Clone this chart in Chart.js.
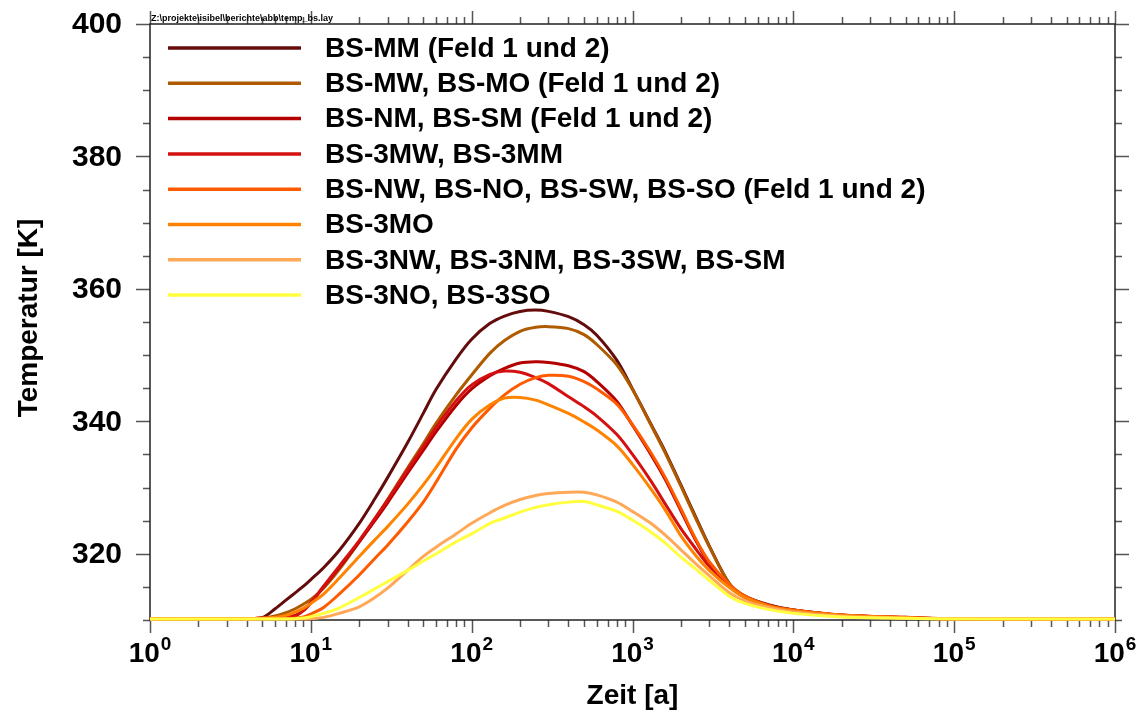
<!DOCTYPE html>
<html>
<head>
<meta charset="utf-8">
<title>temp_bs</title>
<script src="https://cdn.jsdelivr.net/npm/chart.js@4.4.0/dist/chart.umd.min.js"></script>
<style>
  body { margin: 0; background: #fff; }
  canvas { display: block; }
</style>
</head>
<body>
<canvas id="chart" width="1143" height="713"></canvas>
<script>
// Zeit [a]
var zeit = [1, 4, 5, 6, 7, 8, 9, 10, 12, 15, 20, 25, 30, 40, 50, 60, 80, 100, 130, 160, 200, 250, 300, 400, 500, 600, 800, 1000, 1300, 1600, 2000, 2500, 3000, 4000, 5000, 7000, 10000, 20000, 50000, 100000, 1000000];

// Temperatur [K]
var bsMM   = [310.15, 310.2, 310.35, 311.7, 313.0, 314.1, 315.1, 316.1, 317.9, 320.5, 324.6, 328.3, 331.5, 336.8, 341.2, 344.8, 349.4, 352.4, 354.8, 355.9, 356.6, 356.8, 356.6, 355.8, 354.6, 353.0, 349.2, 344.9, 339.6, 335.4, 330.4, 325.3, 321.2, 315.5, 313.6, 312.3, 311.5, 310.7, 310.35, 310.2, 310.15];
var bsMW   = [310.15, 310.2, 310.3, 310.6, 311.1, 311.7, 312.4, 313.1, 314.8, 317.6, 321.8, 325.3, 328.2, 333.0, 336.6, 339.7, 344.0, 347.0, 350.3, 352.2, 353.6, 354.2, 354.3, 354.0, 353.1, 351.6, 348.5, 344.8, 339.5, 335.2, 330.2, 325.1, 321.1, 315.5, 313.6, 312.2, 311.5, 310.7, 310.35, 310.2, 310.15];
var bsNM   = [310.15, 310.2, 310.3, 310.4, 310.5, 310.7, 311.5, 312.6, 315.0, 317.9, 321.8, 325.0, 327.7, 332.2, 335.6, 338.4, 342.4, 344.9, 346.9, 348.0, 348.8, 349.0, 348.9, 348.4, 347.5, 346.0, 343.0, 339.4, 335.0, 331.2, 326.5, 321.8, 318.6, 315.3, 313.5, 312.2, 311.5, 310.75, 310.4, 310.2, 310.15];
var bs3MW  = [310.15, 310.2, 310.3, 310.4, 310.45, 310.6, 311.4, 312.6, 315.1, 318.1, 322.0, 325.3, 328.1, 332.7, 336.2, 339.1, 343.1, 345.5, 347.1, 347.6, 347.4, 346.6, 345.7, 343.7, 342.2, 340.8, 338.0, 335.0, 331.0, 327.5, 323.8, 320.6, 318.1, 315.1, 313.4, 312.1, 311.4, 310.7, 310.35, 310.2, 310.15];
var bsNW   = [310.15, 310.15, 310.2, 310.2, 310.25, 310.3, 310.45, 310.9, 311.9, 313.9, 316.8, 319.3, 321.3, 324.8, 327.8, 330.8, 335.8, 339.0, 342.0, 344.0, 345.6, 346.6, 346.95, 346.8, 346.0, 344.9, 342.6, 339.5, 335.3, 331.5, 326.8, 322.0, 318.8, 315.4, 313.6, 312.2, 311.5, 310.75, 310.4, 310.2, 310.15];
var bs3MO  = [310.15, 310.2, 310.25, 310.4, 310.7, 311.2, 311.8, 312.5, 313.9, 316.3, 319.6, 322.1, 324.1, 327.5, 330.4, 333.0, 337.4, 340.3, 342.5, 343.5, 343.6, 343.2, 342.5, 341.2, 339.9, 338.7, 336.3, 333.5, 329.8, 326.6, 322.7, 319.6, 317.5, 314.9, 313.4, 312.1, 311.4, 310.7, 310.35, 310.2, 310.15];
var bs3NW  = [310.15, 310.15, 310.15, 310.15, 310.15, 310.15, 310.15, 310.2, 310.4, 311.0, 312.0, 313.4, 314.8, 317.5, 319.6, 321.0, 323.0, 324.6, 326.2, 327.3, 328.2, 328.8, 329.1, 329.3, 329.3, 328.9, 327.8, 326.4, 324.6, 322.8, 320.6, 318.4, 316.7, 314.1, 312.9, 311.9, 311.2, 310.55, 310.25, 310.2, 310.15];
var bs3NO  = [310.15, 310.15, 310.15, 310.15, 310.15, 310.2, 310.3, 310.5, 311.0, 311.8, 313.4, 314.7, 315.8, 317.5, 318.9, 320.0, 321.8, 323.0, 324.6, 325.4, 326.3, 327.0, 327.4, 327.8, 327.9, 327.4, 326.4, 325.1, 323.3, 321.6, 319.5, 317.6, 316.0, 313.6, 312.5, 311.6, 311.0, 310.45, 310.25, 310.15, 310.15];

var seriesNames = [
  'BS-MM (Feld 1 und 2)',
  'BS-MW, BS-MO (Feld 1 und 2)',
  'BS-NM, BS-SM (Feld 1 und 2)',
  'BS-3MW, BS-3MM',
  'BS-NW, BS-NO, BS-SW, BS-SO (Feld 1 und 2)',
  'BS-3MO',
  'BS-3NW, BS-3NM, BS-3SW, BS-SM',
  'BS-3NO, BS-3SO'
];
var seriesValues = [bsMM, bsMW, bsNM, bs3MW, bsNW, bs3MO, bs3NW, bs3NO];
var seriesColors = ['#640c0c', '#b05a00', '#b40000', '#d41010', '#ff5a00', '#ff8200', '#ffa858', '#ffff40'];

var yMin = 310, yMax = 400;
var yLabels = [320, 340, 360, 380, 400];
var xExponents = [0, 1, 2, 3, 4, 5, 6];
var filePath = 'Z:\\projekte\\isibel\\berichte\\abb\\temp_bs.lay';

var FONT = '"Liberation Sans", Arial, sans-serif';

var datasets = seriesValues.map(function (vals, i) {
  return {
    label: seriesNames[i],
    data: zeit.map(function (t, j) { return { x: t, y: vals[j] }; }),
    borderColor: seriesColors[i],
    backgroundColor: seriesColors[i],
    borderWidth: 3,
    pointRadius: 0,
    fill: false,
    tension: 0.3,
    order: seriesValues.length - i,
    clip: 4
  };
});

var frame = {
  id: 'frame',
  beforeDatasetsDraw: function (chart) {
    var ctx = chart.ctx, a = chart.chartArea;
    var xs = chart.scales.x, ys = chart.scales.y;
    ctx.save();
    ctx.strokeStyle = '#555';
    ctx.lineWidth = 1.5;
    // y ticks, both sides, pointing out
    for (var v = yMin; v <= yMax; v += 5) {
      var py = Math.round(ys.getPixelForValue(v)) + 0.5;
      var len = (v % 20 === 0) ? 14 : 7;
      ctx.beginPath();
      ctx.moveTo(a.left - len, py); ctx.lineTo(a.left, py);
      ctx.moveTo(a.right, py); ctx.lineTo(a.right + len, py);
      ctx.stroke();
    }
    // x ticks (log), bottom and top
    for (var k = 0; k <= 6; k++) {
      for (var d = 1; d <= 9; d++) {
        if (k === 6 && d > 1) break;
        var px = Math.round(xs.getPixelForValue(d * Math.pow(10, k))) + 0.5;
        var l = (d === 1) ? 13 : 7;
        ctx.beginPath();
        ctx.moveTo(px, a.bottom); ctx.lineTo(px, a.bottom + l);
        ctx.moveTo(px, a.top); ctx.lineTo(px, a.top - l);
        ctx.stroke();
      }
    }
    ctx.strokeStyle = '#222';
    ctx.strokeRect(a.left, a.top, a.right - a.left, a.bottom - a.top);
    ctx.restore();
  },
  afterDraw: function (chart) {
    var ctx = chart.ctx, a = chart.chartArea;
    var xs = chart.scales.x, ys = chart.scales.y;
    ctx.save();
    ctx.fillStyle = '#000';

    // y tick labels
    ctx.font = 'bold 30px ' + FONT;
    ctx.textAlign = 'right';
    ctx.textBaseline = 'middle';
    yLabels.forEach(function (v) {
      ctx.fillText(String(v), a.left - 28, ys.getPixelForValue(v) + 1);
    });

    // x tick labels 10^n
    ctx.textAlign = 'left';
    ctx.textBaseline = 'alphabetic';
    xExponents.forEach(function (e) {
      var px = xs.getPixelForValue(Math.pow(10, e));
      ctx.font = 'bold 28px ' + FONT;
      var w1 = ctx.measureText('10').width;
      ctx.font = 'bold 19px ' + FONT;
      var w2 = ctx.measureText(String(e)).width;
      var x0 = px - (w1 + w2 + 1) / 2;
      ctx.font = 'bold 28px ' + FONT;
      ctx.fillText('10', x0, 662);
      ctx.font = 'bold 19px ' + FONT;
      ctx.fillText(String(e), x0 + w1 + 1, 650);
    });

    // axis titles
    ctx.font = 'bold 28px ' + FONT;
    ctx.textAlign = 'center';
    ctx.fillText('Zeit [a]', (a.left + a.right) / 2, 704);
    ctx.save();
    ctx.translate(29, (a.top + a.bottom) / 2 - 4);
    ctx.rotate(-Math.PI / 2);
    ctx.textBaseline = 'middle';
    ctx.fillText('Temperatur [K]', 0, 0);
    ctx.restore();

    // file path
    ctx.font = 'bold 9px ' + FONT;
    ctx.textAlign = 'left';
    ctx.fillText(filePath, a.left + 1, 21);

    // legend inside plot
    ctx.textBaseline = 'middle';
    ctx.font = 'bold 28px ' + FONT;
    chart.data.datasets.forEach(function (ds, i) {
      var y = a.top + 24 + i * 35.3;
      ctx.strokeStyle = ds.borderColor;
      ctx.lineWidth = 3.5;
      ctx.beginPath();
      ctx.moveTo(a.left + 18, y);
      ctx.lineTo(a.left + 151, y);
      ctx.stroke();
      ctx.fillStyle = '#000';
      ctx.fillText(ds.label, a.left + 175, y + 1);
    });
    ctx.restore();
  }
};

new Chart(document.getElementById('chart').getContext('2d'), {
  type: 'line',
  data: { datasets: datasets },
  options: {
    responsive: false,
    animation: false,
    devicePixelRatio: 1,
    layout: { padding: { left: 150, right: 28, top: 24, bottom: 93 } },
    scales: {
      x: { type: 'logarithmic', min: 1, max: 1000000, display: false },
      y: { type: 'linear', min: yMin, max: yMax, display: false }
    },
    plugins: {
      legend: { display: false },
      tooltip: { enabled: false }
    }
  },
  plugins: [frame]
});
</script>
</body>
</html>
